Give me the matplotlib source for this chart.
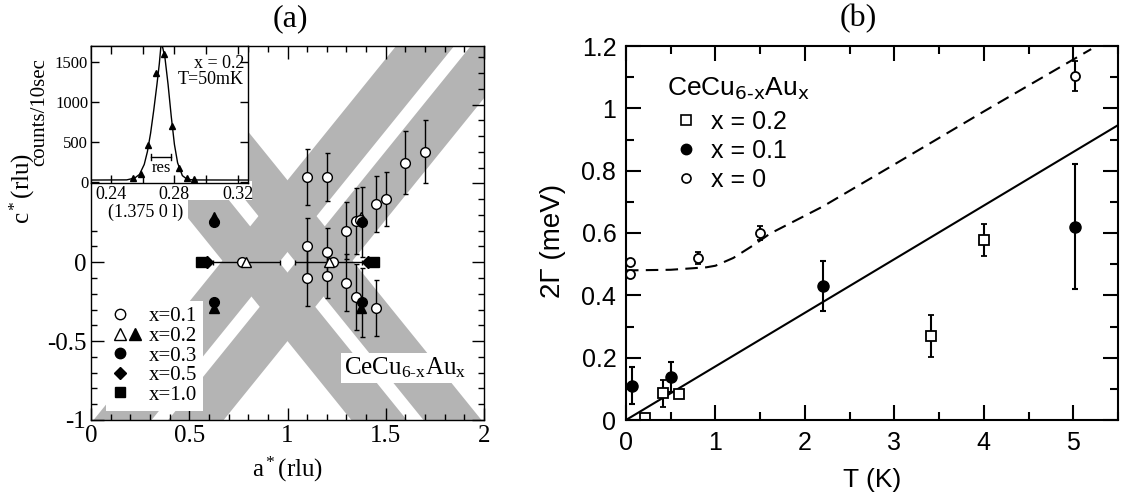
import numpy as np
import matplotlib
matplotlib.use("Agg")
import matplotlib.pyplot as plt
from matplotlib.ticker import MultipleLocator
from matplotlib.lines import Line2D
from matplotlib.legend_handler import HandlerTuple
from matplotlib.patches import Rectangle

# ---------------- Panel (a) data ----------------
# x=0.1 open circles (a*, c*, c-error)
a01 = [1.10, 1.20, 1.60, 1.70, 1.45, 1.50, 1.30, 1.35, 1.10, 1.20, 1.23, 1.10, 1.20, 1.30, 1.35, 1.45, 0.77, 1.37]
c01 = [0.54, 0.54, 0.63, 0.70, 0.37, 0.40, 0.20, 0.26, 0.10, 0.065, 0.0, -0.10, -0.085, -0.13, -0.22, -0.29, 0.0, 0.27]
e01 = [0.18, 0.15, 0.20, 0.20, 0.18, 0.17, 0.18, 0.21, 0.18, 0.15, 0.0, 0.18, 0.14, 0.18, 0.21, 0.18, 0.0, 0.0]
# x=0.2 open triangles
a02o = [0.79, 1.21, 1.375]
c02o = [0.0, 0.0, 0.29]
a02o_err = [0.17, 0.17, 0.0]
# x=0.2 filled triangles
a02f = [0.625, 0.625, 1.375]
c02f = [0.29, -0.29, -0.29]
# x=0.3 filled circles
a03 = [0.625, 0.625, 1.38, 1.38]
c03 = [0.255, -0.255, 0.255, -0.255]
e03 = [0.0, 0.0, 0.22, 0.22]
# x=0.5 filled diamonds
a05 = [0.59, 1.41]
c05 = [0.0, 0.0]
# x=1.0 filled squares
a10 = [0.56, 1.44]
c10 = [0.0, 0.0]

# gray rods through (1,0): slope (c per a) and offsets of the strip edges
rod_slope = 1.54
rod_offsets = [(0.065, 0.52), (-0.50, -0.065)]

# inset scan (1.375 0 l)
scan_l = [0.2540, 0.2589, 0.2635, 0.2683, 0.2734, 0.2784, 0.2828, 0.2877, 0.2921]
scan_counts = [46, 100, 462, 1366, 1600, 700, 171, 46, 37]
fit_l = [0.228, 0.250, 0.255, 0.258, 0.261, 0.263, 0.265, 0.267, 0.269, 0.2705, 0.2715,
         0.2725, 0.274, 0.276, 0.278, 0.280, 0.282, 0.285, 0.288, 0.292, 0.326]
fit_counts = [25, 27, 50, 95, 220, 380, 610, 900, 1220, 1480, 1700, 1690, 1560, 1220, 820,
              470, 240, 80, 35, 26, 25]

# ---------------- Panel (b) data ----------------
T_x0 = [0.04, 0.04, 0.80, 1.50, 5.02]
G_x0 = [0.506, 0.468, 0.519, 0.599, 1.104]
E_x0 = [0.0, 0.0, 0.02, 0.022, 0.047]
T_x01 = [0.07, 0.50, 2.20, 5.02]
G_x01 = [0.110, 0.139, 0.43, 0.62]
E_x01 = [0.060, 0.048, 0.080, 0.20]
T_x02 = [0.216, 0.41, 0.596, 3.41, 4.00]
G_x02 = [0.007, 0.086, 0.082, 0.27, 0.577]
E_x02 = [0.0, 0.043, 0.0, 0.067, 0.052]
line_T = [0.0, 5.5]
line_G = [0.0, 0.946]
dash_T = [0.0, 0.5, 0.9, 1.0, 1.2, 1.42, 1.61, 2.2, 3.0, 4.0, 5.2]
dash_G = [0.480, 0.482, 0.490, 0.495, 0.52, 0.56, 0.598, 0.685, 0.82, 0.99, 1.19]

serif = ["Liberation Serif", "DejaVu Serif"]
sans = ["Liberation Sans", "DejaVu Sans"]
plt.rcParams["font.family"] = serif
plt.rcParams["mathtext.fontset"] = "custom"
plt.rcParams["mathtext.rm"] = "Liberation Serif"
plt.rcParams["mathtext.it"] = "Liberation Serif:italic"

fig = plt.figure(figsize=(11.22, 5.0), dpi=100)
W, H = 1122.0, 500.0

def fax(x0, y0, x1, y1):
    return [x0 / W, 1 - y1 / H, (x1 - x0) / W, (y1 - y0) / H]

# ---------------- Panel (a) ----------------
ax = fig.add_axes(fax(91, 46, 484, 420))
ax.set_xlim(0, 2)
ax.set_ylim(-1, 1.371)
gray = "#b4b4b4"
aa = np.array([0.0, 2.0])
for lo, hi in rod_offsets:
    ax.fill_between(aa, lo + rod_slope * (aa - 1), hi + rod_slope * (aa - 1), color=gray, lw=0, zorder=1)
    ax.fill_between(aa, lo - rod_slope * (aa - 1), hi - rod_slope * (aa - 1), color=gray, lw=0, zorder=1)
# white boxes behind the inset's tick labels
ax.add_patch(Rectangle((0, 0.588), 0.41, 0.05, transform=ax.transAxes, fc="white", ec="none", zorder=2))
ax.add_patch(Rectangle((0, 0.508), 0.247, 0.085, transform=ax.transAxes, fc="white", ec="none", zorder=2))

ek = dict(ecolor="black", elinewidth=1.0, capsize=1.8, capthick=1.0, ls="none", zorder=3)
ax.plot(a02f, c02f, "^", ms=6.5, color="black", zorder=2.6)
ax.plot(a02o[2:], c02o[2:], "^", ms=6.5, mfc="white", mec="black", mew=1.0, zorder=2.6)
ax.errorbar(a01, c01, yerr=e01, fmt="o", ms=7, mfc="white", mec="black", mew=1.0, **ek)
ax.errorbar(a02o[:2], c02o[:2], xerr=a02o_err[:2], fmt="^", ms=7, mfc="white", mec="black", mew=1.0, **ek)
ax.errorbar(a03, c03, yerr=e03, fmt="o", ms=7, color="black", **ek)
ax.plot(a05, c05, "D", ms=6, color="black", zorder=4)
ax.plot(a10, c10, "s", ms=6.5, color="black", zorder=5)

ax.xaxis.set_minor_locator(MultipleLocator(0.1))
ax.yaxis.set_minor_locator(MultipleLocator(0.1))
ax.tick_params(which="both", direction="in", top=True, right=True, width=1.0, labelsize=18)
ax.tick_params(which="major", length=9)
ax.tick_params(which="minor", length=4.5)
ax.set_xticks([0, 0.5, 1, 1.5, 2])
ax.set_xticklabels(["0", "0.5", "1", "1.5", "2"])
ax.set_yticks([-1, -0.5, 0, 0.5, 1])
ax.set_yticklabels(["-1", "-0.5", "0", "", ""])
ax.set_xlabel("a$^*$(rlu)", fontsize=18, labelpad=6)
fig.text(22 / W, 1 - 188 / H, "c$^*$(rlu)", fontsize=18, rotation=90, ha="center", va="center")
for s in ax.spines.values():
    s.set_linewidth(1.0)

blank = Line2D([], [], ls="none")
h1 = Line2D([], [], marker="o", ls="none", ms=7.5, mfc="white", mec="black")
h2a = Line2D([], [], marker="^", ls="none", ms=8, mfc="white", mec="black")
h2b = Line2D([], [], marker="^", ls="none", ms=8, color="black")
h3 = Line2D([], [], marker="o", ls="none", ms=7.5, color="black")
h5 = Line2D([], [], marker="D", ls="none", ms=6, color="black")
h10 = Line2D([], [], marker="s", ls="none", ms=7.5, color="black")
leg = ax.legend([(h1, blank), (h2a, h2b), (h3, blank), (h5, blank), (h10, blank)],
                ["x=0.1", "x=0.2", "x=0.3", "x=0.5", "x=1.0"],
                handler_map={tuple: HandlerTuple(ndivide=None, pad=0.0)},
                loc="lower left", bbox_to_anchor=(0.038, 0.024), fontsize=15, frameon=True,
                fancybox=False, framealpha=1, edgecolor="none", handlelength=1.45,
                handletextpad=0.3, labelspacing=0.0, borderpad=0.3, borderaxespad=0.0)
leg.set_zorder(6)
ax.text(1.60, -0.67, "CeCu$_{\\text{6-x}}$Au$_{\\text{x}}$", fontsize=18, ha="center", va="center", zorder=6,
        bbox=dict(facecolor="white", edgecolor="none", pad=2))

# inset
ins = fig.add_axes(fax(91, 46, 248, 183))
ins.set_zorder(7)
ins.plot(fit_l, fit_counts, color="black", lw=1.0)
ins.plot(scan_l, scan_counts, "^", ms=5, color="black")
ins.set_xlim(0.2275, 0.3263)
ins.set_ylim(-12, 1700)
ins.set_xticks([0.24, 0.28, 0.32])
ins.set_xticklabels(["0.24", "0.28", "0.32"])
ins.xaxis.set_minor_locator(MultipleLocator(0.02))
ins.set_yticks([0, 500, 1000, 1500])
ins.tick_params(which="both", direction="in", top=True, right=True, labelsize=13, width=1.0, pad=2)
ins.tick_params(axis="y", labelsize=12)
ins.tick_params(which="major", length=5.5)
ins.tick_params(which="minor", length=5.5)
ins.text(0.35, -0.215, "(1.375 0 l)", transform=ins.transAxes, ha="center", va="center", fontsize=13)
fig.text(40 / W, 1 - 112 / H, "counts/10sec", fontsize=15, rotation=90, ha="center", va="center")
ins.text(0.975, 0.935, "x = 0.2\nT=50mK", transform=ins.transAxes, ha="right", va="top",
         fontsize=13, linespacing=0.95)
ins.plot([0.2652, 0.2778], [310, 310], color="black", lw=1.0)
ins.plot([0.2652, 0.2652], [270, 350], color="black", lw=1.0)
ins.plot([0.2778, 0.2778], [270, 350], color="black", lw=1.0)
ins.text(0.2715, 180, "res", ha="center", va="center", fontsize=12)
for s in ins.spines.values():
    s.set_linewidth(1.0)

# ---------------- Panel (b) ----------------
bx = fig.add_axes(fax(626, 46, 1118, 420))
bx.set_xlim(0, 5.5)
bx.set_ylim(0, 1.2)
bx.plot(line_T, line_G, color="black", lw=1.5)
bx.plot(dash_T, dash_G, color="black", lw=1.5, dashes=(6, 3.5))
ekb = dict(ecolor="black", elinewidth=1.5, capsize=2.4, capthick=1.5, ls="none")
bx.errorbar(T_x0, G_x0, yerr=E_x0, fmt="o", ms=6.5, mfc="white", mec="black", mew=1.3, **ekb)
bx.errorbar(T_x01, G_x01, yerr=E_x01, fmt="o", ms=8, color="black", **ekb)
bx.errorbar(T_x02, G_x02, yerr=E_x02, fmt="s", ms=7.5, mfc="white", mec="black", mew=1.3, **ekb)
bx.xaxis.set_minor_locator(MultipleLocator(0.5))
bx.yaxis.set_minor_locator(MultipleLocator(0.1))
bx.tick_params(which="both", direction="in", top=True, right=True, width=1.5, labelsize=18)
bx.tick_params(which="major", length=11)
bx.tick_params(which="minor", length=6)
bx.tick_params(axis="x", pad=8)
bx.tick_params(axis="y", pad=7)
bx.set_yticks([0, 0.2, 0.4, 0.6, 0.8, 1.0, 1.2])
bx.set_yticklabels(["0", "0.2", "0.4", "0.6", "0.8", "1", "1.2"], family=sans)
bx.set_xticks([0, 1, 2, 3, 4, 5])
bx.set_xticklabels(["0", "1", "2", "3", "4", "5"], family=sans)
bx.set_xlabel("T (K)", fontsize=19, family=sans, labelpad=9)
fig.text(553 / W, 1 - 241 / H, "2Γ (meV)", fontsize=20, family=sans, rotation=90, ha="center", va="center")
for s in bx.spines.values():
    s.set_linewidth(1.5)
bx.text(0.46, 1.062, "CeCu$_{\\text{6-x}}$Au$_{\\text{x}}$", fontsize=19, family=sans, ha="left", va="center",
        math_fontfamily="dejavusans")
hb = [Line2D([], [], marker="s", ls="none", ms=7, mfc="white", mec="black", mew=1.2),
      Line2D([], [], marker="o", ls="none", ms=7.5, color="black"),
      Line2D([], [], marker="o", ls="none", ms=6.5, mfc="white", mec="black", mew=1.2)]
lb = bx.legend(hb, ["x = 0.2", "x = 0.1", "x = 0"], loc="upper left", bbox_to_anchor=(0.077, 0.856),
               borderaxespad=0.0, borderpad=0.4,
               frameon=False, prop={"family": sans, "size": 18}, handlelength=1.0,
               handletextpad=0.5, labelspacing=0.2)

fig.text(290 / W, 1 - 19 / H, "(a)", fontsize=23, ha="center", va="center")
fig.text(858 / W, 1 - 19 / H, "(b)", fontsize=23, ha="center", va="center")

fig.savefig("out.png", dpi=100)
